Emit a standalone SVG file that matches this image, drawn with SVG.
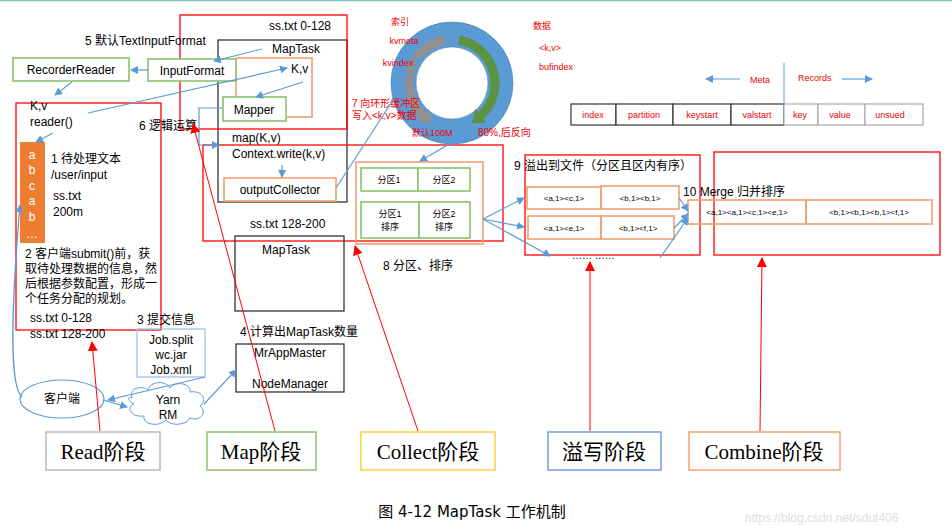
<svg xmlns="http://www.w3.org/2000/svg" width="952" height="530" viewBox="0 0 952 530">
<style>
text{font-family:"Liberation Sans","Noto Sans CJK SC",sans-serif;font-size:12px;fill:#000}
.r{fill:#e00;font-size:9px}
.t{fill:#e00;font-size:9px;text-anchor:middle}
.s{font-size:9px;text-anchor:middle}
.c{text-anchor:middle}
.rb{fill:none;stroke:#f00;stroke-width:1.3}
.kb{fill:none;stroke:#333;stroke-width:1.3}
.gb{fill:#fff;stroke:#8bc26a;stroke-width:1.6}
.ob{fill:none;stroke:#f0a070;stroke-width:1.6}
.bl{fill:none;stroke:#5b9bd5;stroke-width:1.2;marker-end:url(#ba)}
.rl{fill:none;stroke:#f00;stroke-width:1;marker-end:url(#ra)}
.big{font-family:"Liberation Serif","Noto Sans CJK SC",serif;font-size:21px;text-anchor:middle}
</style>
<defs>
<marker id="ba" markerWidth="8" markerHeight="8" refX="7" refY="4" orient="auto" markerUnits="userSpaceOnUse"><path d="M0,0L8,4L0,8z" fill="#5b9bd5"/></marker>
<marker id="ra" markerWidth="10" markerHeight="10" refX="9" refY="5" orient="auto" markerUnits="userSpaceOnUse"><path d="M0,0L10,5L0,10z" fill="#f00"/></marker>
<marker id="ga" markerWidth="18" markerHeight="18" refX="4" refY="9" orient="auto" markerUnits="userSpaceOnUse"><path d="M0,0L12,9L0,18z" fill="#909090"/></marker>
<marker id="gr" markerWidth="18" markerHeight="18" refX="4" refY="9" orient="auto" markerUnits="userSpaceOnUse"><path d="M0,0L12,9L0,18z" fill="#5a9440"/></marker>
</defs>
<line x1="0" y1="0.5" x2="952" y2="0.5" stroke="#7fc0b8" stroke-width="1.5"/>

<g id="maptask1">
<rect class="kb" x="218" y="40" width="129" height="162"/>
<text x="296" y="53" class="c">MapTask</text>
<rect class="ob" x="236" y="58" width="76" height="59"/>
<text x="291" y="73">K,v</text>
<text x="232" y="142">map(K,v)</text>
<text x="232" y="158">Context.write(k,v)</text>
</g>
<g id="mapper"><rect class="gb" x="223" y="97" width="63" height="24"/><text x="254" y="114" class="c">Mapper</text></g>
<g id="outputCollector"><rect class="ob" x="224" y="178" width="112" height="23"/><text x="280" y="194" class="c">outputCollector</text></g>
<g id="redA"><rect class="rb" x="180" y="15" width="167" height="114"/><text x="300" y="30" class="c">ss.txt 0-128</text></g>
<g id="redB"><rect class="rb" x="203" y="145" width="300" height="96"/></g>

<text x="85" y="45">5 默认TextInputFormat</text>
<g id="recorderReader"><rect class="gb" x="13" y="58" width="116" height="23"/><text x="71" y="74" class="c">RecorderReader</text></g>
<g id="inputFormat"><rect class="gb" x="148" y="59" width="88" height="22"/><text x="192" y="75" class="c">InputFormat</text></g>

<g id="input">
<rect class="rb" x="16" y="103" width="145" height="227"/>
<text x="30" y="110">K,v</text>
<text x="30" y="126">reader()</text>
<rect x="20" y="142" width="25" height="101" fill="#ed7d31"/>
<g font-size="10" text-anchor="middle">
<text x="32" y="159" fill="#fff" style="fill:#fff">a</text><text x="32" y="174" style="fill:#fff">b</text><text x="32" y="190" style="fill:#fff">c</text><text x="32" y="205" style="fill:#fff">a</text><text x="32" y="221" style="fill:#fff">b</text><text x="32" y="238" style="fill:#fff">…</text>
</g>
<text x="51" y="163">1 待处理文本</text>
<text x="51" y="179">/user/input</text>
<text x="53" y="200">ss.txt</text>
<text x="53" y="216">200m</text>
<text x="25" y="258">2 客户端submit()前，获</text>
<text x="25" y="273">取待处理数据的信息，然</text>
<text x="25" y="288">后根据参数配置，形成一</text>
<text x="25" y="303">个任务分配的规划。</text>
<text x="30" y="322">ss.txt  0-128</text>
<text x="30" y="338">ss.txt  128-200</text>
</g>
<text x="139" y="130">6 逻辑运算</text>

<text x="137" y="324">3 提交信息</text>
<g id="job"><rect x="137" y="329" width="68" height="48" fill="none" stroke="#9dc3e6" stroke-width="1.3"/>
<text x="171" y="344" class="c">Job.split</text><text x="171" y="359" class="c">wc.jar</text><text x="171" y="374" class="c">Job.xml</text></g>

<text x="250" y="228">ss.txt 128-200</text>
<g id="maptask2"><rect class="kb" x="235" y="236" width="109" height="75"/><text x="286" y="254" class="c">MapTask</text></g>
<text x="240" y="336">4 计算出MapTask数量</text>
<g id="mrappmaster"><rect class="kb" x="236" y="344" width="108" height="48"/><text x="290" y="357" class="c">MrAppMaster</text><text x="290" y="388" class="c">NodeManager</text></g>
<g id="client"><ellipse cx="62" cy="399" rx="42" ry="19" fill="#fff" stroke="#5b9bd5" stroke-width="1.2"/><text x="62" y="403" class="c">客户端</text></g>
<g id="yarn">
<path d="M132,398 C128,388 142,385 148,390 C150,381 166,380 170,388 C176,380 192,384 190,392 C202,390 208,400 200,406 C208,412 200,422 190,418 C186,426 170,426 166,420 C158,428 142,424 144,416 C130,418 126,406 134,404 C126,400 128,396 132,398Z" fill="#fff" stroke="#5b9bd5" stroke-width="1"/>
<text x="168" y="404" class="c">Yarn</text><text x="168" y="419" class="c">RM</text></g>

<g id="ring">
<circle cx="452" cy="83" r="48.5" fill="none" stroke="#5b9bd5" stroke-width="25"/>
<circle cx="452" cy="83" r="61" fill="none" stroke="#4a7fb0" stroke-width="0.6"/>
<circle cx="452" cy="83" r="36" fill="#fff" stroke="#4a7fb0" stroke-width="0.6"/>
<path d="M445,40 A44,44 0 0 0 426,118" fill="none" stroke="#909090" stroke-width="9" marker-end="url(#ga)"/>
<path d="M459,40 A44,44 0 0 1 478,118" fill="none" stroke="#5a9440" stroke-width="9" marker-end="url(#gr)"/>
<text x="400" y="25" class="t">索引</text>
<text x="404" y="44" class="t">kvmeta</text>
<text x="398" y="66" class="t">kvindex</text>
<text x="542" y="29" class="t">数据</text>
<text x="550" y="51" class="t">&lt;k,v&gt;</text>
<text x="556" y="70" class="t">bufindex</text>
<text x="352" y="107" class="r" style="font-size:10px">7 向环形缓冲区</text>
<text x="352" y="119" class="r" style="font-size:10px">写入&lt;k,v&gt;数据</text>
<text x="412" y="136" class="r">默认100M</text>
<text x="478" y="136" class="r" style="font-size:10px">80%,后反向</text>
</g>

<g id="metatable">
<line x1="784" y1="63" x2="784" y2="103" stroke="#5b9bd5" stroke-width="1"/>
<path class="bl" d="M740,79 L706,79"/><text x="750" y="83" class="r">Meta</text>
<text x="798" y="81" class="r">Records</text><path class="bl" d="M842,79 L872,79"/>
<g fill="#fff" stroke="#333" stroke-width="1.2">
<rect x="571" y="104" width="45" height="21"/><rect x="616" y="104" width="57" height="21"/><rect x="673" y="104" width="58" height="21"/><rect x="731" y="104" width="53" height="21"/>
</g>
<g fill="#fff" stroke="#aaa" stroke-width="1.2">
<rect x="784" y="104" width="34" height="21"/><rect x="818" y="104" width="47" height="21"/><rect x="865" y="104" width="58" height="21"/>
</g>
<text x="593" y="118" class="t">index</text><text x="644" y="118" class="t">partition</text><text x="702" y="118" class="t">keystart</text><text x="757" y="118" class="t">valstart</text><text x="800" y="118" class="t">key</text><text x="840" y="118" class="t">value</text><text x="890" y="118" class="t">unsued</text>
</g>

<g id="partition">
<rect class="ob" x="356" y="162" width="127" height="82"/>
<rect class="gb" x="361" y="168" width="57" height="23"/><rect class="gb" x="418" y="168" width="52" height="23"/>
<rect class="gb" x="361" y="202" width="58" height="36"/><rect class="gb" x="419" y="202" width="51" height="36"/>
<text x="389" y="183" class="s">分区1</text><text x="444" y="183" class="s">分区2</text>
<text x="390" y="217" class="s">分区1</text><text x="390" y="230" class="s">排序</text>
<text x="444" y="217" class="s">分区2</text><text x="444" y="230" class="s">排序</text>
</g>
<text x="383" y="270">8 分区、排序</text>

<g id="spill">
<rect class="rb" x="525" y="155" width="175" height="100"/>
<text x="514" y="170">9 溢出到文件（分区且区内有序）</text>
<rect class="ob" x="527" y="187" width="74" height="22"/><rect class="ob" x="601" y="186" width="78" height="23"/>
<rect class="ob" x="528" y="216" width="73" height="23"/><rect class="ob" x="601" y="216" width="73" height="23"/>
<text x="564" y="201" class="s" style="font-size:8px">&lt;a,1&gt;&lt;c,1&gt;</text><text x="640" y="201" class="s" style="font-size:8px">&lt;b,1&gt;&lt;b,1&gt;</text>
<text x="564" y="231" class="s" style="font-size:8px">&lt;a,1&gt;&lt;e,1&gt;</text><text x="638" y="231" class="s" style="font-size:8px">&lt;b,1&gt;&lt;f,1&gt;</text>
<text x="572" y="259" style="font-size:10px">…… ……</text>
</g>

<g id="merge">
<rect class="rb" x="714" y="152" width="226" height="103"/>
<text x="683" y="196">10 Merge 归并排序</text>
<rect class="ob" x="688" y="200" width="118" height="24"/><rect class="ob" x="806" y="200" width="126" height="24"/>
<text x="747" y="215" class="s" style="font-size:8px">&lt;a,1&gt;&lt;a,1&gt;&lt;c,1&gt;&lt;e,1&gt;</text>
<text x="869" y="215" class="s" style="font-size:8px">&lt;b,1&gt;&lt;b,1&gt;&lt;b,1&gt;&lt;f,1&gt;</text>
</g>

<g id="stages">
<rect x="46" y="432" width="114" height="38" fill="#fff" stroke="#bbb" stroke-width="1.5"/><text x="103" y="459" class="big">Read阶段</text>
<rect x="207" y="432" width="109" height="38" fill="#fff" stroke="#8bc26a" stroke-width="1.5"/><text x="261" y="459" class="big">Map阶段</text>
<rect x="361" y="432" width="134" height="38" fill="#fff" stroke="#ffd040" stroke-width="1.5"/><text x="428" y="459" class="big">Collect阶段</text>
<rect x="548" y="432" width="113" height="38" fill="#fff" stroke="#6f9ee0" stroke-width="1.5"/><text x="604" y="459" class="big">溢写阶段</text>
<rect x="689" y="432" width="151" height="38" fill="#fff" stroke="#f4a070" stroke-width="1.5"/><text x="764" y="459" class="big">Combine阶段</text>
</g>
<text x="472" y="517" class="c" style="font-family:'DejaVu Sans','Noto Sans CJK SC',sans-serif;font-size:15px">图 4-12    MapTask 工作机制</text>
<text x="745" y="522" style="font-size:12px;fill:#ddd">https://blog.csdn.net/sdut406</text>

<g id="connectors">
<path class="bl" d="M262,49 L214,61"/>
<path class="bl" d="M148,70 L131,70"/>
<path class="bl" d="M72,82 L55,95"/>
<path class="bl" d="M88,113 L287,68"/>
<path class="bl" d="M303,82 L256,97"/>
<path class="bl" d="M53,133 L36,142"/>
<path class="bl" d="M223,108 L199,108 L199,145 L219,145"/>
<path class="bl" d="M282,165 L282,177"/>
<path class="bl" d="M336,188 L421,57"/>
<path class="bl" d="M477,128 L420,161"/>
<path class="bl" d="M483,219 L524,198"/>
<path class="bl" d="M483,219 L524,227"/>
<path class="bl" d="M483,219 L550,256"/>
<path class="bl" d="M679,198 L688,211"/>
<path class="bl" d="M674,228 L688,214"/>
<path class="bl" d="M660,258 L688,218"/>
<path class="bl" d="M22,397 C8,385 12,300 20,205"/>
<path class="bl" d="M205,377 L108,400"/>
<path class="bl" d="M103,400 L127,407"/>
<path class="bl" d="M204,404 L236,370"/>
<path class="rl" d="M100,431 L92,342"/>
<path class="rl" d="M275,431 L193,124"/>
<path class="rl" d="M418,431 L355,246"/>
<path class="rl" d="M590,431 L590,262"/>
<path class="rl" d="M760,431 L762,258"/>
</g>
</svg>
